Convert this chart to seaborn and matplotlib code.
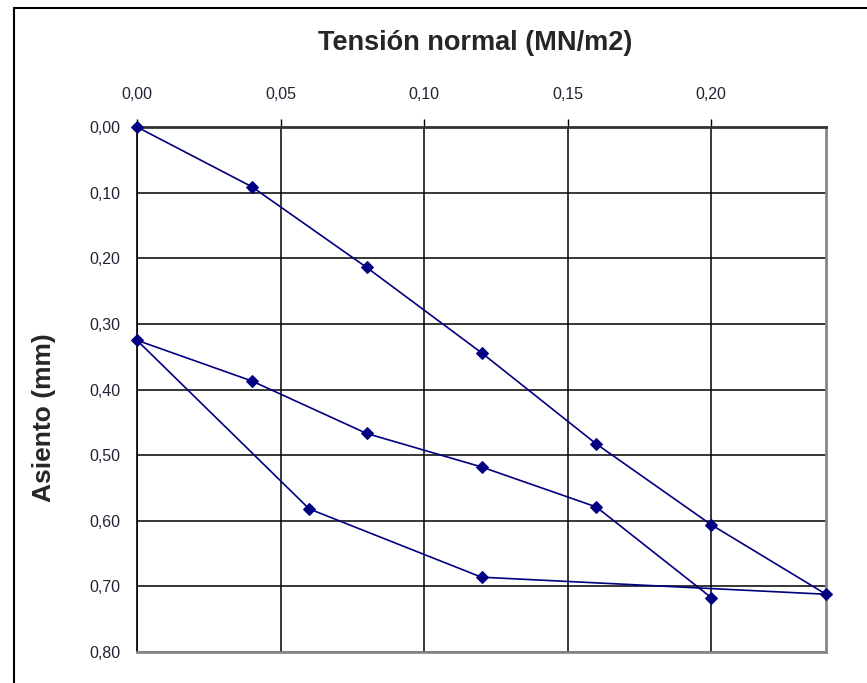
import pandas as pd
import seaborn as sns
import matplotlib.pyplot as plt
from matplotlib.lines import Line2D
from matplotlib.ticker import FuncFormatter

sns.set_style('white')
plt.rcParams['font.family'] = ['Liberation Sans', 'DejaVu Sans']

# load / unload / reload cycle, in the order the points were measured
tension = [0.00, 0.04, 0.08, 0.12, 0.16, 0.20, 0.24,
           0.12, 0.06, 0.00,
           0.04, 0.08, 0.12, 0.16, 0.20]
asiento = [0.000, 0.091, 0.214, 0.344, 0.483, 0.606, 0.712,
           0.686, 0.582, 0.325,
           0.387, 0.467, 0.518, 0.579, 0.717]
x_ticks = [0.00, 0.05, 0.10, 0.15, 0.20]
y_ticks = [0.00, 0.10, 0.20, 0.30, 0.40, 0.50, 0.60, 0.70, 0.80]

df = pd.DataFrame({'tension': tension, 'asiento': asiento})

fig = plt.figure(figsize=(8.67, 6.83), dpi=100)
ax = fig.add_axes([137 / 867, 1 - 652 / 683, (826 - 137) / 867, (652 - 127) / 683])

sns.lineplot(data=df, x='tension', y='asiento', sort=False, estimator=None,
             color='#000080', lw=1.2, marker='D', markersize=6,
             markeredgecolor='#000080', clip_on=False, zorder=5, ax=ax)

ax.set_xlim(0, 0.24)
ax.set_ylim(0.80, 0.00)
ax.set_xticks(x_ticks)
ax.set_yticks(y_ticks)
comma = FuncFormatter(lambda v, p: f'{v:.2f}'.replace('.', ','))
ax.xaxis.set_major_formatter(comma)
ax.yaxis.set_major_formatter(comma)
ax.xaxis.tick_top()
ax.tick_params(axis='both', which='major', direction='out', length=6, width=1,
               color='black', labelsize=11.5, labelcolor='#222233')
ax.tick_params(axis='x', pad=12)
ax.tick_params(axis='y', pad=6)
ax.grid(True, color='black', lw=1.1)
ax.set_xlabel('')
ax.set_ylabel('')

for side, col in [('left', 'black'), ('top', '#333333'), ('right', '#888888'), ('bottom', '#888888')]:
    ax.spines[side].set_visible(True)
    ax.spines[side].set_color(col)
    ax.spines[side].set_linewidth(2 if side != 'left' else 1.2)

fig.text(475 / 867, 1 - 43 / 683, 'Tensión normal (MN/m2)', ha='center', va='center',
         fontsize=19.5, fontweight='bold')
fig.text(44 / 867, 1 - 418 / 683, 'Asiento (mm)', ha='center', va='center',
         rotation=90, fontsize=19, fontweight='bold')

# outer chart frame
fig.add_artist(Line2D([14 / 867, 14 / 867], [0, 1 - 8 / 683], color='black', lw=1.5))
fig.add_artist(Line2D([14 / 867, 1], [1 - 8 / 683, 1 - 8 / 683], color='black', lw=1.5))

plt.savefig('out.png', dpi=100)
